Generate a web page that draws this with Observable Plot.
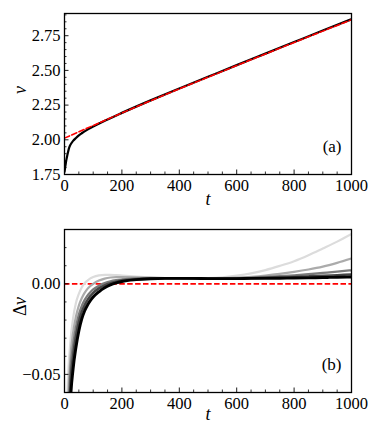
<!DOCTYPE html>
<html><head><meta charset="utf-8">
<script src="https://cdn.jsdelivr.net/npm/d3@7"></script>
<script src="https://cdn.jsdelivr.net/npm/@observablehq/plot@0.6"></script>
<style>
body{margin:0;background:#fff}
svg{display:block}
#chart svg, #chart svg text { font-family: "Liberation Serif", "DejaVu Serif", serif !important; }
</style>
</head><body><div id="chart"></div>
<script>
// ---- data ----
const vT   = [0,3,6,10,15,20,30,40,50,60,80,100,150,200,300,400,500,600,700,800,900,1000];
const vVal = [1.77,1.81,1.85,1.89,1.935,1.962,1.992,2.013,2.032,2.047,2.073,2.096,2.147,2.194,2.284,2.370,2.454,2.538,2.621,2.704,2.787,2.869];
const fitT   = [0,100,200,300,400,500,600,700,800,900,1000];
const fitVal = [2.012,2.103,2.193,2.281,2.367,2.451,2.535,2.618,2.701,2.783,2.865];

const dT = [0,10,20,30,40,50,60,70,80,90,100,120,140,160,180,200,250,300,350,400,450,500,550,600,650,700,750,800,850,900,950,1000];
const dv0 = [-0.2,-0.062,-0.033,-0.019,-0.0105,-0.0055,-0.002,0.0003,0.0018,0.003,0.0038,0.0047,0.005,0.005,0.0048,0.0046,0.004,0.0035,0.0032,0.0031,0.0031,0.0032,0.0036,0.0045,0.0058,0.0076,0.0099,0.0125,0.0158,0.0195,0.0233,0.0275];
const dv1 = [-0.22,-0.08,-0.042,-0.027,-0.018,-0.012,-0.008,-0.005,-0.0028,-0.0012,0.0,0.0018,0.0029,0.0035,0.0037,0.0037,0.0036,0.0034,0.0032,0.0031,0.003,0.003,0.0031,0.0034,0.0039,0.0046,0.0055,0.0066,0.0079,0.0095,0.0116,0.014];
const dv2 = [-0.23,-0.095,-0.05,-0.034,-0.024,-0.017,-0.0123,-0.009,-0.0065,-0.0046,-0.0031,-0.001,0.0004,0.0014,0.002,0.0024,0.003,0.0032,0.0032,0.0031,0.003,0.003,0.003,0.0031,0.0034,0.0038,0.0042,0.0047,0.0053,0.006,0.0067,0.0075];
const dv3 = [-0.24,-0.11,-0.058,-0.04,-0.029,-0.021,-0.0155,-0.0118,-0.009,-0.0068,-0.005,-0.0025,-0.0008,0.0004,0.0012,0.0018,0.0026,0.003,0.0031,0.0031,0.003,0.003,0.003,0.003,0.0031,0.0033,0.0035,0.0038,0.0041,0.0044,0.0048,0.0052];
const dv4 = [-0.25,-0.13,-0.068,-0.047,-0.035,-0.026,-0.0195,-0.015,-0.0118,-0.0093,-0.0073,-0.0044,-0.0022,-0.0006,0.0005,0.0013,0.0023,0.0028,0.003,0.003,0.003,0.0029,0.0029,0.0029,0.003,0.003,0.0031,0.0032,0.0033,0.0035,0.0036,0.0038];
const dvSeries = [dv0, dv1, dv2, dv3, dv4];
const dvColors = ["#dcdcdc","#ababab","#7a7a7a","#454545","#000000"];
const dvWidths = [2.2, 2.2, 2.3, 2.5, 2.9];
const zeroLine = [0];

const xMajor = [0,200,400,600,800,1000];
const xMinor = [50,100,150,250,300,350,450,500,550,650,700,750,850,900,950];
const yMajorA = [1.75,2.00,2.25,2.50,2.75];
const yMinorA = [1.80,1.85,1.90,1.95,2.05,2.10,2.15,2.20,2.30,2.35,2.40,2.45,2.55,2.60,2.65,2.70,2.80,2.85,2.90];
const yMajorB = [-0.05,0.00];
const yMinorB = [-0.04,-0.03,-0.02,-0.01,0.01,0.02];

// ---- style ----
const font = "Liberation Serif, DejaVu Serif, serif";
const fs = 16.5;
const fmt = d3.format(".2f");
const W = 380;

function axes(yMajor, yMinor) {
  return [
    Plot.axisX({ticks: xMajor, tickSize: -4.5, tickFormat: () => "", strokeWidth: 0.9}),
    Plot.axisX({ticks: xMinor, tickSize: -2.5, tickFormat: () => "", strokeWidth: 0.8}),
    Plot.axisX({ticks: xMajor, tickSize: 0, tickPadding: 5, tickFormat: d => String(d), fontFamily: font, fontSize: fs}),
    Plot.axisY({ticks: yMajor, tickSize: -4.5, tickFormat: () => "", strokeWidth: 0.9}),
    Plot.axisY({ticks: yMinor, tickSize: -2.5, tickFormat: () => "", strokeWidth: 0.8}),
    Plot.axisY({ticks: yMajor, tickSize: 0, tickPadding: 4, tickFormat: fmt, fontFamily: font, fontSize: fs}),
    Plot.frame({stroke: "black", strokeWidth: 1.3})
  ];
}

const plotA = Plot.plot({
  width: W, height: 215,
  marginLeft: 64, marginRight: 29, marginTop: 13, marginBottom: 41,
  style: {fontFamily: font, fontSize: fs + "px", color: "black", background: "white"},
  x: {domain: [0,1000], label: null},
  y: {domain: [1.75,2.91], label: null},
  marks: [
    Plot.line(vT.map((t,i) => ({t, v: vVal[i]})), {x: "t", y: "v", stroke: "black", strokeWidth: 2.2, curve: "monotone-x", clip: true}),
    Plot.line(fitT.map((t,i) => ({t, v: fitVal[i]})), {x: "t", y: "v", stroke: "#ff0000", strokeWidth: 1.6, strokeDasharray: "5.5,2.4", curve: "monotone-x", clip: true}),
    ...axes(yMajorA, yMinorA),
    Plot.text(["v"], {frameAnchor: "left", dx: -44, rotate: -90, fontStyle: "italic", fontSize: 18, fontFamily: font}),
    Plot.text(["t"], {frameAnchor: "bottom", dy: 30, fontStyle: "italic", fontSize: 18, fontFamily: font}),
    Plot.text(["(a)"], {frameAnchor: "bottom-right", dx: -10, dy: -23, textAnchor: "end", fontSize: 17, fontFamily: font})
  ]
});

const rows = dvSeries.flatMap((s, k) => s.map((d, i) => ({t: dT[i], dv: d, k})));
const plotB = Plot.plot({
  width: W, height: 226,
  marginLeft: 64, marginRight: 29, marginTop: 14, marginBottom: 49,
  style: {fontFamily: font, fontSize: fs + "px", color: "black", background: "white"},
  x: {domain: [0,1000], label: null},
  y: {domain: [-0.06,0.03], label: null},
  marks: [
    Plot.ruleY(zeroLine, {stroke: "#ff0000", strokeWidth: 1.6, strokeDasharray: "5.5,2.4"}),
    ...dvSeries.map((s, k) => Plot.line(rows.filter(r => r.k === k), {x: "t", y: "dv", stroke: dvColors[k], strokeWidth: dvWidths[k], curve: "monotone-x", clip: true})),
    ...axes(yMajorB, yMinorB),
    Plot.text(["Δ"], {frameAnchor: "left", dx: -44, dy: 5, rotate: -90, fontSize: 18, fontFamily: font}),
    Plot.text(["v"], {frameAnchor: "left", dx: -44, dy: -6, rotate: -90, fontStyle: "italic", fontSize: 18, fontFamily: font}),
    Plot.text(["t"], {frameAnchor: "bottom", dy: 27, fontStyle: "italic", fontSize: 18, fontFamily: font}),
    Plot.text(["(b)"], {frameAnchor: "bottom-right", dx: -10, dy: -23, textAnchor: "end", fontSize: 17, fontFamily: font})
  ]
});

const root = document.getElementById("chart");
root.appendChild(plotA);
root.appendChild(plotB);
</script></body></html>
